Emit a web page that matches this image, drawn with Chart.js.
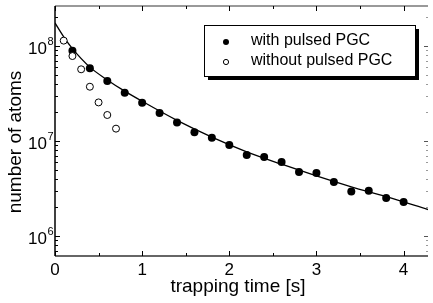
<!DOCTYPE html>
<html>
<head>
<meta charset="utf-8">
<script src="https://cdn.jsdelivr.net/npm/chart.js@4"></script>
<style>
  html, body { margin: 0; padding: 0; background: #fff; }
  #wrap { width: 433px; height: 303px; }
</style>
</head>
<body>
<div id="wrap"><canvas id="chart" width="433" height="303"></canvas></div>
<script>
// trapping time [s] and number of atoms
const withTime = [0.2, 0.4, 0.6, 0.8, 1.0, 1.2, 1.4, 1.6, 1.8, 2.0, 2.2, 2.4, 2.6, 2.8, 3.0, 3.2, 3.4, 3.6, 3.8, 4.0];
const withAtoms = [8.93e7, 5.82e7, 4.28e7, 3.22e7, 2.53e7, 1.97e7, 1.57e7, 1.24e7, 1.08e7, 9.07e6,
                   7.12e6, 6.79e6, 6.01e6, 4.72e6, 4.6e6, 3.7e6, 2.95e6, 3.0e6, 2.51e6, 2.28e6];
const withoutTime = [0.1, 0.2, 0.3, 0.4, 0.5, 0.6, 0.7];
const withoutAtoms = [1.14e8, 7.85e7, 5.69e7, 3.73e7, 2.55e7, 1.88e7, 1.35e7];
// fitted curve
const fitTime = [0, 0.1, 0.2, 0.4, 0.6, 0.8, 1.0, 1.4, 1.8, 2.2, 2.6, 3.0, 3.4, 3.8, 4.28];
const fitAtoms = [1.75e8, 1.25e8, 9.4e7, 6.0e7, 4.4e7, 3.35e7, 2.62e7, 1.65e7, 1.1e7, 7.7e6, 5.7e6, 4.3e6, 3.3e6, 2.6e6, 1.9e6];

const xTicks = [0, 1, 2, 3, 4];
const xMinorTicks = [0.5, 1.5, 2.5, 3.5];
const yTicks = [1e6, 1e7, 1e8];
const legendLabels = ["with pulsed PGC", "without pulsed PGC"];
const xTitle = "trapping time [s]";
const yTitle = "number of atoms";

const FONT = "'Liberation Sans', Arial, sans-serif";

function pts(xs, ys) {
  return xs.map((x, i) => ({ x: x, y: ys[i] }));
}

const decor = {
  id: "decor",
  afterDraw(chart) {
    const ctx = chart.ctx;
    const a = chart.chartArea;
    const xs = chart.scales.x;
    const ys = chart.scales.y;
    ctx.save();

    // frame
    ctx.lineWidth = 1.5;
    ctx.strokeStyle = "#777";
    ctx.beginPath(); ctx.moveTo(a.left, a.top); ctx.lineTo(a.right, a.top); ctx.stroke();
    ctx.lineWidth = 2;
    ctx.strokeStyle = "#666";
    ctx.beginPath(); ctx.moveTo(a.left, a.bottom); ctx.lineTo(a.right, a.bottom); ctx.stroke();
    ctx.strokeStyle = "#000";
    ctx.lineWidth = 1.5;
    ctx.beginPath(); ctx.moveTo(a.left, a.top); ctx.lineTo(a.left, a.bottom); ctx.stroke();

    // x ticks, bottom and top, pointing inward
    ctx.lineWidth = 1;
    ctx.strokeStyle = "#000";
    xTicks.concat(xMinorTicks).forEach(v => {
      const px = Math.round(xs.getPixelForValue(v)) + 0.5;
      const len = xTicks.includes(v) ? 5 : 3;
      ctx.beginPath();
      ctx.moveTo(px, a.bottom); ctx.lineTo(px, a.bottom - len);
      ctx.moveTo(px, a.top); ctx.lineTo(px, a.top + len);
      ctx.stroke();
    });

    // y ticks, log minors
    for (let d = 5; d <= 8; d++) {
      for (let m = 1; m <= 9; m++) {
        const v = m * Math.pow(10, d);
        if (v < ys.min || v > ys.max) continue;
        const py = Math.round(ys.getPixelForValue(v)) + 0.5;
        const major = m === 1;
        ctx.strokeStyle = "#000";
        ctx.beginPath();
        ctx.moveTo(a.left, py); ctx.lineTo(a.left + (major ? 5 : 3), py);
        ctx.stroke();
        ctx.strokeStyle = major ? "#555" : "#999";
        ctx.beginPath();
        ctx.moveTo(a.right, py); ctx.lineTo(a.right - (major ? 4 : 2), py);
        ctx.stroke();
      }
    }

    // y tick labels 10^n
    ctx.fillStyle = "#000";
    yTicks.forEach(v => {
      const py = ys.getPixelForValue(v);
      const exp = String(Math.round(Math.log10(v)));
      ctx.font = "17px " + FONT;
      ctx.textAlign = "right";
      ctx.textBaseline = "middle";
      ctx.fillText("10", 47, py + 3);
      ctx.font = "11px " + FONT;
      ctx.textAlign = "left";
      ctx.fillText(exp, 47.5, py - 4);
    });

    // axis titles
    ctx.font = "19px " + FONT;
    ctx.textAlign = "center";
    ctx.textBaseline = "middle";
    ctx.fillText(xTitle, 238, 287);
    ctx.save();
    ctx.translate(16, 142);
    ctx.rotate(-Math.PI / 2);
    ctx.fillText(yTitle, 0, 0);
    ctx.restore();

    // legend box with shadow
    const bx = 204, by = 25, bw = 211, bh = 51;
    ctx.fillStyle = "#000";
    ctx.fillRect(bx + 4, by + 4, bw, bh);
    ctx.fillStyle = "#fff";
    ctx.fillRect(bx, by, bw, bh);
    ctx.strokeStyle = "#000";
    ctx.lineWidth = 1;
    ctx.strokeRect(bx + 0.5, by + 0.5, bw, bh);

    ctx.fillStyle = "#000";
    ctx.beginPath(); ctx.arc(226, 42, 3, 0, Math.PI * 2); ctx.fill();
    ctx.beginPath(); ctx.arc(226, 62, 2.6, 0, Math.PI * 2);
    ctx.fillStyle = "#fff"; ctx.fill(); ctx.stroke();

    ctx.fillStyle = "#000";
    ctx.font = "16px " + FONT;
    ctx.textAlign = "left";
    ctx.textBaseline = "middle";
    ctx.fillText(legendLabels[0], 251, 41);
    ctx.fillText(legendLabels[1], 251, 61);

    ctx.restore();
  }
};

new Chart(document.getElementById("chart"), {
  type: "scatter",
  data: {
    datasets: [
      {
        label: "fit",
        data: pts(fitTime, fitAtoms),
        showLine: true,
        borderColor: "#000",
        borderWidth: 1.3,
        pointRadius: 0,
        cubicInterpolationMode: "monotone",
        order: 3
      },
      {
        label: legendLabels[0],
        data: pts(withTime, withAtoms),
        backgroundColor: "#000",
        borderColor: "#000",
        pointRadius: 4,
        borderWidth: 0,
        order: 2
      },
      {
        label: legendLabels[1],
        data: pts(withoutTime, withoutAtoms),
        backgroundColor: "#fff",
        borderColor: "#000",
        pointRadius: 3.5,
        borderWidth: 1,
        order: 1
      }
    ]
  },
  options: {
    responsive: false,
    animation: false,
    devicePixelRatio: 1,
    layout: { padding: { top: 6, right: 0, bottom: 0, left: 0 } },
    plugins: { legend: { display: false }, tooltip: { enabled: false } },
    scales: {
      x: {
        type: "linear",
        min: 0,
        max: 4.28,
        grid: { display: false, drawTicks: false },
        border: { display: false },
        afterBuildTicks: s => { s.ticks = xTicks.map(v => ({ value: v })); },
        afterFit: s => { s.height = 47; },
        ticks: { color: "#000", font: { family: FONT, size: 17 }, padding: 4, maxRotation: 0 }
      },
      y: {
        type: "logarithmic",
        min: 6.16e5,
        max: 2.64e8,
        grid: { display: false, drawTicks: false },
        border: { display: false },
        afterBuildTicks: s => { s.ticks = yTicks.map(v => ({ value: v })); },
        afterFit: s => { s.width = 55; },
        ticks: { display: false }
      }
    }
  },
  plugins: [decor]
});
</script>
</body>
</html>
